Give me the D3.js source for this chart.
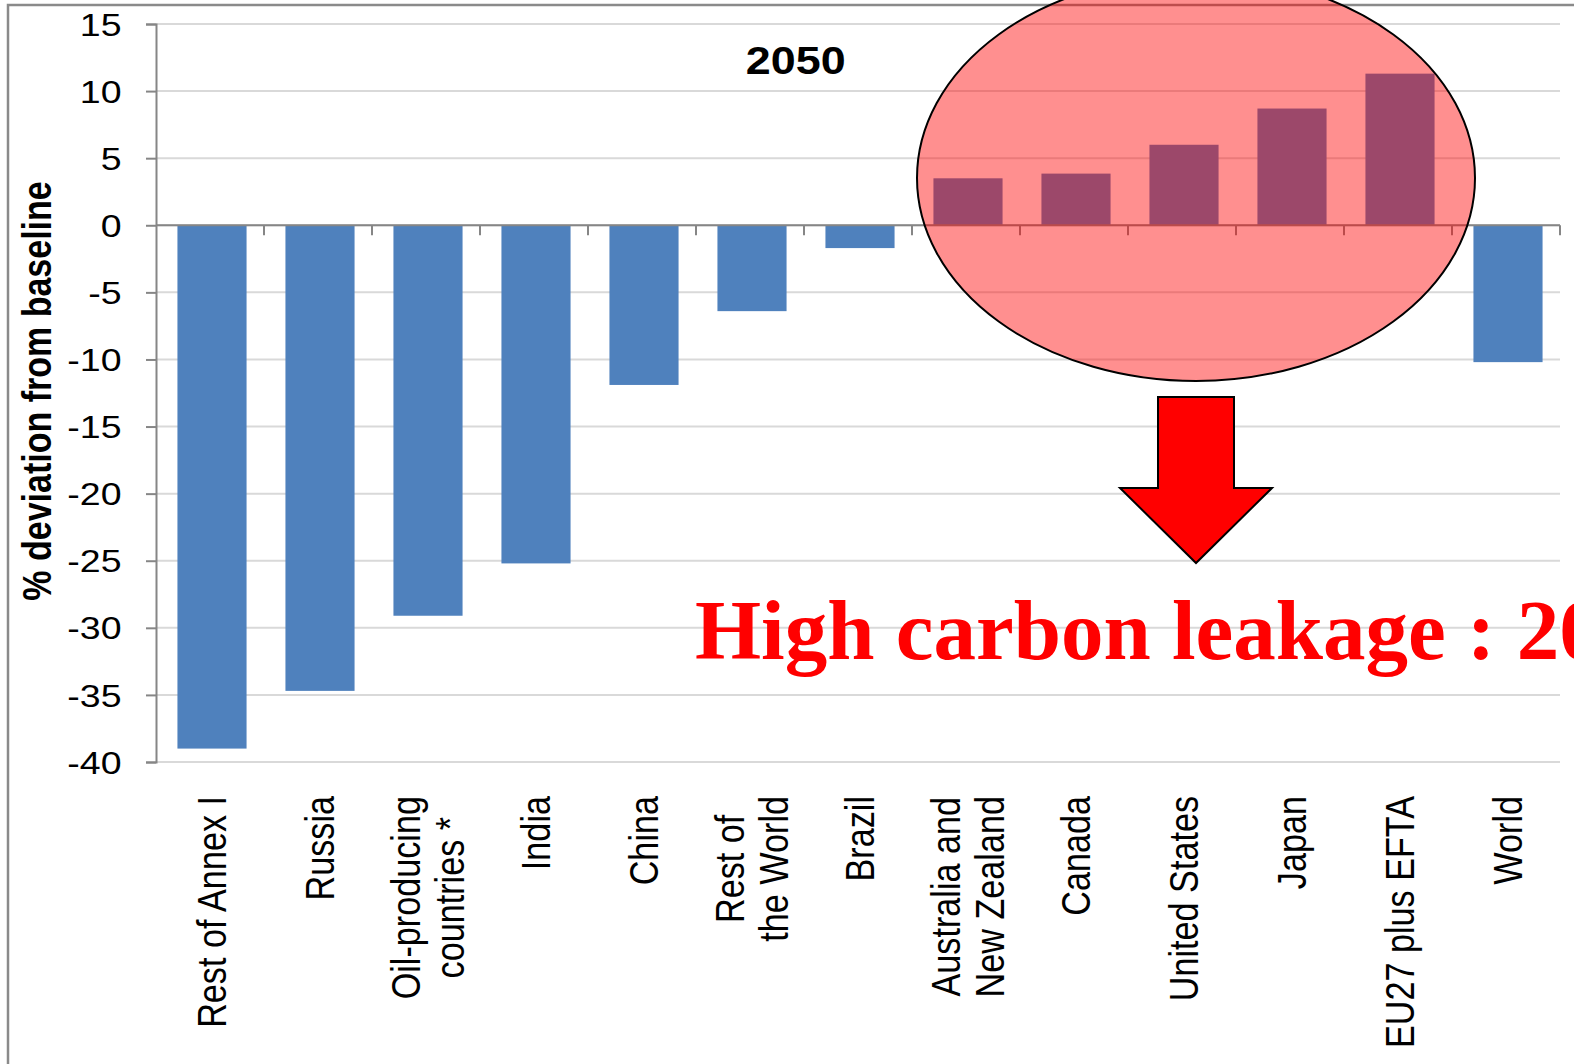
<!DOCTYPE html>
<html>
<head>
<meta charset="utf-8">
<script src="https://cdn.jsdelivr.net/npm/d3@7"></script>
<style>
  body { margin: 0; background: #fff; }
  svg { display: block; }
</style>
</head>
<body>
<script>
// regions, in the order of the bars ("|" splits a label over two lines)
var regions = ["Rest of Annex I", "Russia", "Oil-producing|countries *", "India", "China",
               "Rest of|the World", "Brazil", "Australia and|New Zealand", "Canada",
               "United States", "Japan", "EU27 plus EFTA", "World"];

// % deviation from baseline in 2050
var deviation = [-39.0, -34.7, -29.1, -25.2, -11.9, -6.4, -1.7, 3.5, 3.85, 6.0, 8.7, 11.3, -10.2];

// y tick labels
var yTicks = [15, 10, 5, 0, -5, -10, -15, -20, -25, -30, -35, -40];

var yearLabel = "2050";
var yTitle = "% deviation from baseline";
var leakageText = "High carbon leakage : 2050";

// sizes (note: "top" is a reserved window property, so plotTop/plotBottom)
var w = 1574,
    h = 1064,
    plotLeft = 156,
    plotRight = 1560,
    plotTop = 24,
    plotBottom = 762,
    stretch = 1.17,     // the original chart was pulled wider than its text
    tickStretch = 1.21;

var svg = d3.select("body")
            .append("svg")
             .attr("width", w)
             .attr("height", h);

// outer frame of the chart area
svg.append("rect")
   .attr("x", 8)
   .attr("y", 5)
   .attr("width", w + 10)
   .attr("height", h + 10)
   .attr("fill", "none")
   .attr("stroke", "#8a8a8a")
   .attr("stroke-width", 2.5);

// scales
var xScale = d3.scaleBand()
               .domain(regions)
               .range([plotLeft, plotRight])
               .paddingInner(0.36)
               .paddingOuter(0.18);

var yScale = d3.scaleLinear()
               .domain([-40, 15])
               .range([plotBottom, plotTop]);

// gridlines
svg.append("g")
   .selectAll("line")
   .data(yTicks)
   .enter()
   .append("line")
   .attr("x1", plotLeft)
   .attr("x2", plotRight)
   .attr("y1", function(d) { return yScale(d); })
   .attr("y2", function(d) { return yScale(d); })
   .attr("stroke", "#d9d9d9")
   .attr("stroke-width", 2);

// bars
svg.append("g")
   .selectAll("rect")
   .data(deviation)
   .enter()
   .append("rect")
   .attr("x", function(d, i) { return xScale(regions[i]) + 2; })
   .attr("width", xScale.bandwidth())
   .attr("y", function(d) { return yScale(Math.max(0, d)); })
   .attr("height", function(d) { return Math.abs(yScale(d) - yScale(0)); })
   .attr("fill", "#4f81bd");

// y axis (plain hyphen for negatives, like the original)
var yAxis = d3.axisLeft(yScale)
              .tickValues(yTicks)
              .tickSize(10)
              .tickPadding(0)
              .tickFormat(function(d) { return String(d); });

var yAxisG = svg.append("g")
                .attr("transform", "translate(" + plotLeft + ",0)")
                .call(yAxis);

yAxisG.select(".domain").attr("stroke", "#868686").attr("stroke-width", 2);
yAxisG.selectAll(".tick line").attr("stroke", "#868686").attr("stroke-width", 2);
yAxisG.selectAll(".tick text")
      .attr("x", -34.5 / tickStretch)
      .attr("dy", "0.36em")
      .attr("transform", "scale(" + tickStretch + ",1)")
      .attr("fill", "#000")
      .style("font-family", "'Liberation Sans', Arial, sans-serif")
      .style("font-size", "31px");

// x axis on the zero line, ticks between the bands
var boundaries = d3.range(regions.length + 1).map(function(i) {
    return plotLeft + i * (plotRight - plotLeft) / regions.length;
});

svg.append("line")
   .attr("x1", plotLeft)
   .attr("x2", plotRight)
   .attr("y1", yScale(0))
   .attr("y2", yScale(0))
   .attr("stroke", "#868686")
   .attr("stroke-width", 2);

svg.append("g")
   .selectAll("line")
   .data(boundaries.slice(1))
   .enter()
   .append("line")
   .attr("x1", function(d) { return d; })
   .attr("x2", function(d) { return d; })
   .attr("y1", yScale(0))
   .attr("y2", yScale(0) + 10)
   .attr("stroke", "#868686")
   .attr("stroke-width", 2);

// category labels, rotated
var labelTop = 796;
var labelFont = 34.2;
var lineGap = 44;

regions.forEach(function(name, i) {
    var lines = name.split("|");
    var cx = xScale(name) + xScale.bandwidth() / 2 + 2;
    var g = svg.append("g");
    var texts = lines.map(function(line, j) {
        var baseX = cx + 0.358 * labelFont * 1.18 + (j - (lines.length - 1) / 2) * lineGap;
        return g.append("text")
                .attr("data-x", baseX)
                .style("font-family", "'Liberation Sans', Arial, sans-serif")
                .style("font-size", labelFont + "px")
                .attr("fill", "#000")
                .attr("text-anchor", "middle")
                .text(line);
    });
    var maxLen = d3.max(texts, function(t) { return t.node().getComputedTextLength(); });
    var midY = labelTop + maxLen / 2;
    texts.forEach(function(t) {
        t.attr("transform", "translate(" + t.attr("data-x") + "," + midY + ") rotate(-90) scale(1,1.18)");
    });
});

// y axis title
svg.append("text")
   .attr("transform", "translate(50.5,391) rotate(-90) scale(1," + stretch + ")")
   .attr("text-anchor", "middle")
   .style("font-family", "'Liberation Sans', Arial, sans-serif")
   .style("font-size", "34px")
   .style("font-weight", "bold")
   .text(yTitle);

// year label
svg.append("text")
   .attr("transform", "translate(795.7,74) scale(1.15,1)")
   .attr("text-anchor", "middle")
   .style("font-family", "'Liberation Sans', Arial, sans-serif")
   .style("font-size", "39px")
   .style("font-weight", "bold")
   .text(yearLabel);

// highlight ellipse over the positive bars
svg.append("ellipse")
   .attr("cx", 1196)
   .attr("cy", 178)
   .attr("rx", 279)
   .attr("ry", 203)
   .attr("fill", "#ff0000")
   .attr("fill-opacity", 0.44)
   .attr("stroke", "#000")
   .attr("stroke-width", 2);

// block arrow pointing down
var arrow = d3.path();
arrow.moveTo(1158, 397);
arrow.lineTo(1234, 397);
arrow.lineTo(1234, 488);
arrow.lineTo(1272, 488);
arrow.lineTo(1196, 563);
arrow.lineTo(1120, 488);
arrow.lineTo(1158, 488);
arrow.closePath();

svg.append("path")
   .attr("d", arrow.toString())
   .attr("fill", "#ff0000")
   .attr("stroke", "#000")
   .attr("stroke-width", 2);

// leakage caption (runs off the right edge, as in the original slide)
svg.append("text")
   .attr("x", 695)
   .attr("y", 659)
   .attr("fill", "#ff0000")
   .style("font-family", "'Liberation Serif', 'Times New Roman', serif")
   .style("font-size", "85px")
   .style("font-weight", "bold")
   .text(leakageText);
</script>
</body>
</html>
